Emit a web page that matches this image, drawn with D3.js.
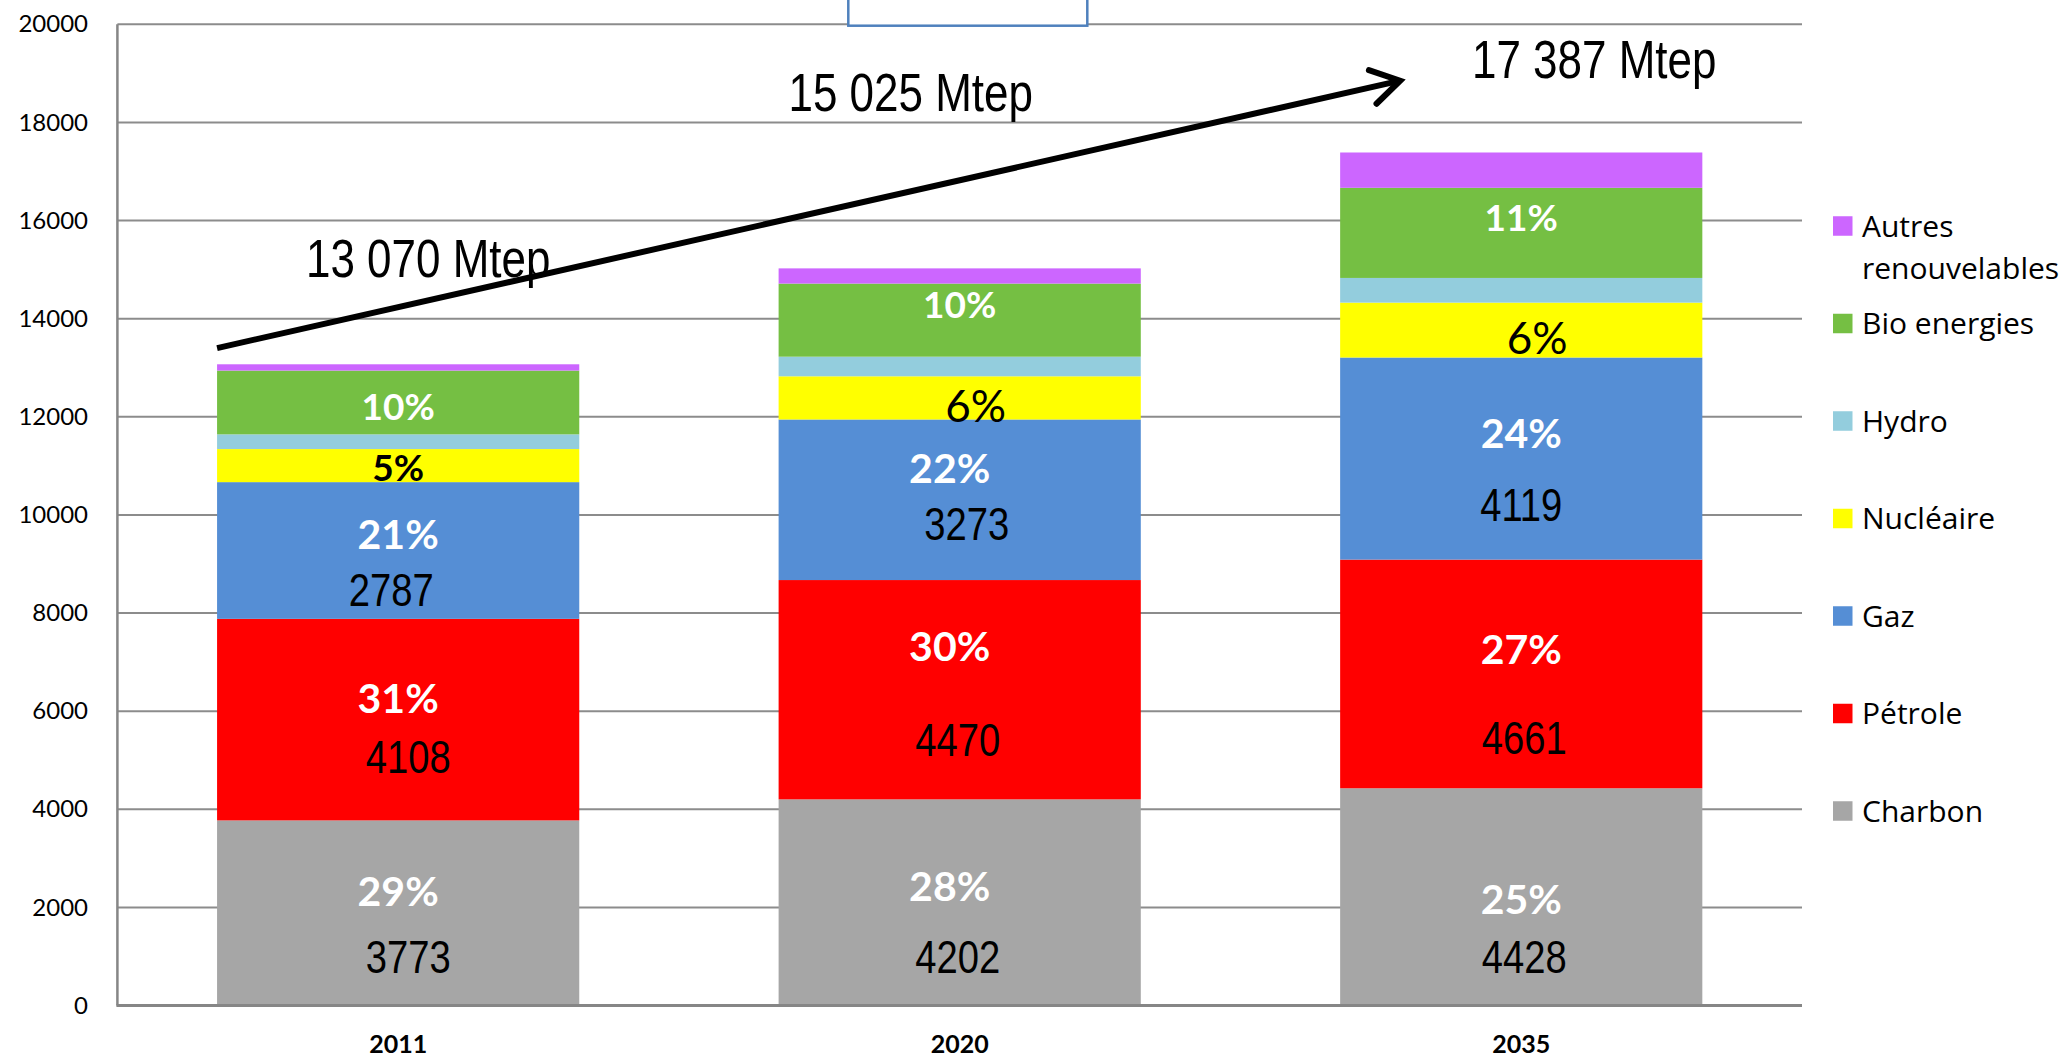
<!DOCTYPE html>
<html>
<head>
<meta charset="utf-8">
<script src="https://cdn.jsdelivr.net/npm/d3@7"></script>
<style>
  html, body { margin: 0; padding: 0; background: #ffffff; }
  svg { display: block; }
</style>
</head>
<body>
<svg id="chart" width="2063" height="1058"></svg>
<script>
// ---------------- DATA ----------------
const years      = ["2011", "2020", "2035"];
const charbon    = [3773, 4202, 4428];
const petrole    = [4108, 4470, 4661];
const gaz        = [2787, 3273, 4119];
const nucleaire  = [674, 880, 1119];
const hydro      = [300, 400, 503];
const bio        = [1300, 1490, 1837];
const autres     = [128, 310, 720];

const seriesNames  = ["Charbon", "Pétrole", "Gaz", "Nucléaire", "Hydro", "Bio energies", "Autres renouvelables"];
const seriesColors = ["#a6a6a6", "#ff0000", "#558ed5", "#ffff00", "#93cddd", "#75bf43", "#cc66ff"];

const pctCharbon   = ["29%", "28%", "25%"];
const pctPetrole   = ["31%", "30%", "27%"];
const pctGaz       = ["21%", "22%", "24%"];
const pctNucleaire = ["5%", "6%", "6%"];
const pctBio       = ["10%", "10%", "11%"];

const yTicks = [0, 2000, 4000, 6000, 8000, 10000, 12000, 14000, 16000, 18000, 20000];

// ---------------- LAYOUT ----------------
const plot = { left: 117.4, right: 1802, top: 24.3, bottom: 1005.5 };
const svg = d3.select("#chart");

const seriesValues = [charbon, petrole, gaz, nucleaire, hydro, bio, autres];
const table = years.map((yr, i) => {
  const row = { year: yr };
  seriesNames.forEach((n, k) => row[n] = seriesValues[k][i]);
  return row;
});
const stacked = d3.stack().keys(seriesNames)(table);
const totals = years.map((_, i) => d3.sum(seriesValues, s => s[i]));

const x = d3.scaleBand().domain(years).range([plot.left, plot.right])
  .paddingInner(0.355).paddingOuter(0.1775);
const y = d3.scaleLinear().domain([0, 20000]).range([plot.bottom, plot.top]);
const color = d3.scaleOrdinal().domain(seriesNames).range(seriesColors);

// gridlines
svg.append("g").selectAll("line").data(yTicks.filter(d => d > 0)).join("line")
  .attr("x1", plot.left).attr("x2", plot.right)
  .attr("y1", d => y(d)).attr("y2", d => y(d))
  .attr("stroke", "#8c8c8c").attr("stroke-width", 2);

// top box (partially outside view)
svg.append("rect")
  .attr("x", 848.3).attr("y", -30).attr("width", 239).attr("height", 55.7)
  .attr("fill", "#ffffff").attr("stroke", "#4f81bd").attr("stroke-width", 2.5);

// bars
svg.append("g").selectAll("g").data(stacked).join("g")
  .attr("fill", d => color(d.key))
  .selectAll("rect").data(d => d).join("rect")
  .attr("x", d => x(d.data.year))
  .attr("width", x.bandwidth())
  .attr("y", d => y(d[1]))
  .attr("height", d => y(d[0]) - y(d[1]));

// axes lines
svg.append("line").attr("x1", plot.left).attr("x2", plot.left)
  .attr("y1", plot.top).attr("y2", plot.bottom)
  .attr("stroke", "#868686").attr("stroke-width", 2.5);
svg.append("line").attr("x1", plot.left - 1).attr("x2", plot.right)
  .attr("y1", plot.bottom).attr("y2", plot.bottom)
  .attr("stroke", "#868686").attr("stroke-width", 3);

// y axis labels
const yAxis = d3.axisLeft(y).tickValues(yTicks).tickSize(0).tickPadding(29.4).tickFormat(d => String(d));
const gy = svg.append("g").attr("transform", `translate(${plot.left},0)`).call(yAxis);
gy.select(".domain").remove();
gy.selectAll("text").attr("font-family", "Lato, 'Open Sans', sans-serif")
  .attr("font-size", 24).attr("fill", "#000");

// x axis labels
const xAxis = d3.axisBottom(x).tickSize(0).tickPadding(30);
const gx = svg.append("g").attr("transform", `translate(0,${plot.bottom})`).call(xAxis);
gx.select(".domain").remove();
gx.selectAll("text").attr("font-family", "Lato, 'Open Sans', sans-serif")
  .attr("font-size", 25).attr("font-weight", "bold").attr("fill", "#000");

// ---------------- LABELS ----------------
const labels = svg.append("g");
const seg = (k, i) => stacked[k][i];
const NARROW = "'Liberation Sans', Arial, sans-serif";

function narrowText(g, txt, cx, cy, size, anchor) {
  g.append("text")
    .attr("transform", `translate(${cx},${cy}) scale(0.83,1)`)
    .attr("text-anchor", anchor || "middle")
    .attr("font-family", NARROW)
    .attr("font-size", size)
    .attr("fill", "#000")
    .text(txt);
}

// hand-placed label nudges (px from segment centre): [pct dx, pct dy, value dx, value dy]
const nudges = [
  [[0, -22, 10, 44], [0, -21, 10, 37], [0, -16, -7, 39]],
  [[-10, -16, -2, 54], [-10, -43, -2, 50], [-10, -32, 7, 24]],
  [[0, 2, 3, 60], [0, -25, 3, 64], [0, -25, 0, 46]]
];
const bioNudge = [4, -15, -15];

const bigPct = [pctCharbon, pctPetrole, pctGaz];
years.forEach((yr, i) => {
  const cx = x(yr) + x.bandwidth() / 2;
  bigPct.forEach((arr, k) => {
    const s = seg(k, i);
    const cy = (y(s[0]) + y(s[1])) / 2;
    const n = nudges[i][k];
    labels.append("text")
      .attr("x", cx + n[0]).attr("y", cy + n[1]).attr("dy", "0.36em")
      .attr("text-anchor", "middle")
      .attr("font-family", "Lato, 'Open Sans', sans-serif")
      .attr("font-weight", "bold").attr("font-size", 41)
      .attr("fill", "#ffffff").text(arr[i]);
    narrowText(labels, String(seriesValues[k][i]), cx + n[2], cy + n[3] + 16.5, 46);
  });
  // bio energies
  const sb = seg(5, i);
  labels.append("text")
    .attr("x", cx).attr("y", (y(sb[0]) + y(sb[1])) / 2 + bioNudge[i]).attr("dy", "0.36em")
    .attr("text-anchor", "middle")
    .attr("font-family", "Lato, 'Open Sans', sans-serif")
    .attr("font-weight", "bold").attr("font-size", 37)
    .attr("fill", "#ffffff").text(pctBio[i]);
  // nucleaire
  const sn = seg(3, i);
  const first = i === 0;
  labels.append("text")
    .attr("x", cx + (first ? 0 : 16)).attr("y", (y(sn[0]) + y(sn[1])) / 2 + (first ? 2 : 8)).attr("dy", "0.36em")
    .attr("text-anchor", "middle")
    .attr("font-family", "Lato, 'Open Sans', sans-serif")
    .attr("font-weight", first ? "bold" : "normal").attr("font-size", first ? 37 : 44)
    .attr("fill", "#000").text(pctNucleaire[i]);
});

// ---------------- ARROW + TOTALS ----------------
const fmtTotal = d3.formatLocale({ decimal: ",", thousands: " ", grouping: [3], currency: ["", ""] }).format(",d");
const ax1 = x(years[0]), ay1 = y(13400);
const ax2 = x(years[2]) + 60, ay2 = y(18850);
const ang = Math.atan2(ay2 - ay1, ax2 - ax1);
const arm = 33, spread = 0.55;
svg.append("line").attr("x1", ax1).attr("y1", ay1).attr("x2", ax2 - 2 * Math.cos(ang)).attr("y2", ay2 - 2 * Math.sin(ang))
  .attr("stroke", "#000").attr("stroke-width", 6);
svg.append("path")
  .attr("d", `M${ax2 - arm * Math.cos(ang - spread)},${ay2 - arm * Math.sin(ang - spread)} L${ax2},${ay2} L${ax2 - arm * Math.cos(ang + spread)},${ay2 - arm * Math.sin(ang + spread)}`)
  .attr("fill", "none").attr("stroke", "#000").attr("stroke-width", 6)
  .attr("stroke-linecap", "round").attr("stroke-linejoin", "miter");

const totalOffsets = [[30, 14841], [-49, 18233], [73, 18914]];
years.forEach((yr, i) => {
  const cx = x(yr) + x.bandwidth() / 2 + totalOffsets[i][0];
  narrowText(svg, fmtTotal(totals[i]) + " Mtep", cx, y(totalOffsets[i][1]), 53);
});

// ---------------- LEGEND ----------------
const legend = svg.append("g");
const legendOrder = seriesNames.slice().reverse();
legendOrder.forEach((name, j) => {
  const cy = 226 + j * 97.5;
  legend.append("rect").attr("x", 1833).attr("y", cy - 9.75).attr("width", 19.5).attr("height", 19.5)
    .attr("fill", color(name));
  const t = legend.append("text").attr("x", 1862).attr("y", cy + 10.7)
    .attr("font-family", "'Open Sans', sans-serif").attr("font-size", 30).attr("fill", "#000");
  if (name === "Autres renouvelables") {
    t.append("tspan").attr("x", 1862).text("Autres");
    t.append("tspan").attr("x", 1862).attr("dy", 42).text("renouvelables");
  } else {
    t.text(name);
  }
});
</script>
</body>
</html>
